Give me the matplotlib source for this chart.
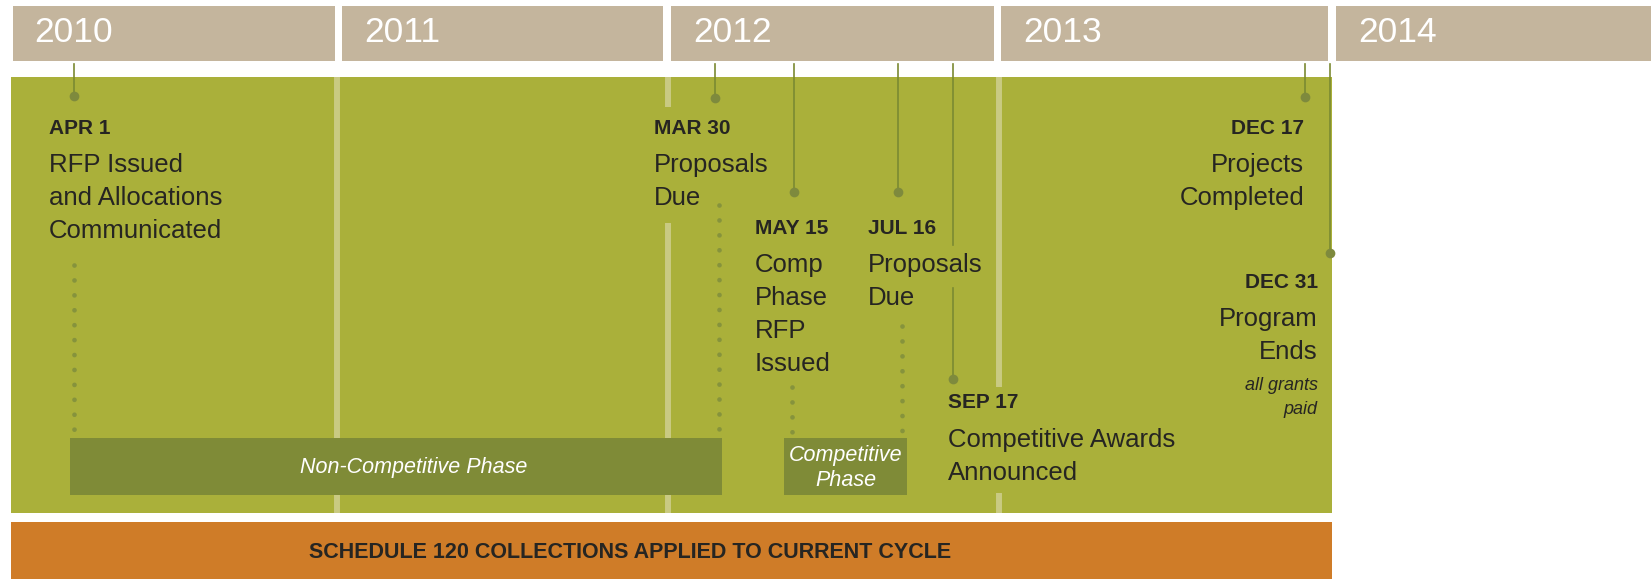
import matplotlib.pyplot as plt
from matplotlib.patches import Rectangle

plt.rcParams['font.family'] = ['Liberation Sans', 'DejaVu Sans']

# ---- data -------------------------------------------------------------
years = [2010, 2011, 2012, 2013, 2014]

event_dates = ["APR 1", "MAR 30", "MAY 15", "JUL 16", "SEP 17", "DEC 17", "DEC 31"]
event_text = [
    ["RFP Issued", "and Allocations", "Communicated"],
    ["Proposals", "Due"],
    ["Comp", "Phase", "RFP", "Issued"],
    ["Proposals", "Due"],
    ["Competitive Awards", "Announced"],
    ["Projects", "Completed"],
    ["Program", "Ends"],
]
# where each marker sits on the year axis (as drawn, decimal years)
event_x = [2010.20, 2012.137, 2012.376, 2012.69, 2012.857, 2013.92, 2013.995]
event_note = {6: ["all grants", "paid"]}

phases = ["Non-Competitive Phase", "Competitive\nPhase"]
phase_start = [2010.19, 2012.346]
phase_end = [2012.159, 2012.717]

program_start = 2010.01
program_end = 2014.0
banner = "SCHEDULE 120 COLLECTIONS APPLIED TO CURRENT CYCLE"

# ---- layout (pixel rows, px offsets) ---------------------------------
W, H = 1651, 579
PX_PER_YEAR = 331.0
X0 = 2010 - 7.5 / PX_PER_YEAR

def dx(px):
    return px / PX_PER_YEAR

dot_y = [96, 98, 192, 192, 379, 97, 253]
label_y = [128, 128, 228, 228, 403, 128, 282]
text_off = [-24.5, -61, -39, -30, -5, -1, -12]
text_ha = ["left"] * 5 + ["right", "right"]
stem_segments = {4: [(64, 245), (288, 379)]}
dotted = {0: (0, 265, 436), 1: (4, 205, 436), 2: (-2, 387, 436), 3: (4, 326, 436)}
sep_segments = {2011: [(77, 513)], 2012: [(77, 107), (223, 513)],
                2013: [(77, 387), (493, 513)]}
box_edges = [(12.6, 335), (342, 663), (671, 994), (1001, 1328), (1336, 1660)]
phase_text_x = [414, None]

TAN = "#c4b59d"
GREEN = "#aab03a"
LIGHT = "#c9ca82"
DARK_GREEN = "#7f8b37"
STEM = "#7b8a32"
ORANGE = "#cf7c28"
INK = "#262522"

def px2yr(px):
    return X0 + px / PX_PER_YEAR

fig = plt.figure(figsize=(W / 100, H / 100), dpi=100)
ax = fig.add_axes([0, 0, 1, 1])
ax.set_xlim(X0, X0 + W / PX_PER_YEAR)
ax.set_ylim(H, 0)
ax.axis("off")

# year header boxes
for yr, (l, r) in zip(years, box_edges):
    ax.add_patch(Rectangle((px2yr(l), 6), dx(r - l), 55, color=TAN, lw=0))
    ax.text(px2yr(l + 22), 33, str(yr), color="white", fontsize=25.5,
            va="center", ha="left")

# green program area and orange banner
ax.add_patch(Rectangle((program_start, 77), program_end - program_start, 436,
                       color=GREEN, lw=0))
ax.add_patch(Rectangle((program_start, 522), program_end - program_start, 60,
                       color=ORANGE, lw=0))
ax.text(2011.88, 553, banner, color=INK, fontsize=15.5, fontweight="bold",
        ha="center", va="center")

# light year separators
for yr, segs in sep_segments.items():
    for y0, y1 in segs:
        ax.plot([yr - dx(2), yr - dx(2)], [y0, y1], color=LIGHT, lw=4.3,
                solid_capstyle="butt", zorder=2)

# phase bars
for i, (name, s, e) in enumerate(zip(phases, phase_start, phase_end)):
    ax.add_patch(Rectangle((s, 438), e - s, 57, color=DARK_GREEN, lw=0,
                           zorder=3))
    tx = px2yr(phase_text_x[i]) if phase_text_x[i] else (s + e) / 2
    ax.text(tx, 468, name, color="white", fontsize=15.5, style="italic",
            ha="center", va="center", linespacing=1.2, zorder=4)

# events
for i, x in enumerate(event_x):
    segs = stem_segments.get(i, [(64, dot_y[i])])
    for y0, y1 in segs:
        ax.plot([x, x], [y0, y1], color=STEM, lw=1.2, zorder=4)
    ax.plot(x, dot_y[i], "o", ms=7, color="#7e8a3d", mec="none", zorder=5)
    if i in dotted:
        off, y0, y1 = dotted[i]
        ax.plot([x + dx(off)] * 2, [y0, y1], color="#86933c", lw=3.4,
                ls=(0, (0.01, 3.15)), dash_capstyle="round", zorder=2.5)
    tx = x + dx(text_off[i])
    ax.text(tx, label_y[i], event_dates[i], color=INK, fontsize=15,
            fontweight="bold", ha=text_ha[i], va="center", zorder=6)
    for k, line in enumerate(event_text[i]):
        ax.text(tx, label_y[i] + 37 + 33 * k, line, color=INK, fontsize=18.5,
                ha=text_ha[i], va="center", zorder=6)
    if i in event_note:
        base = label_y[i] + 37 + 33 * len(event_text[i])
        for k, line in enumerate(event_note[i]):
            ax.text(tx, base + 1 + 23 * k, line, color=INK, fontsize=13,
                    style="italic", ha=text_ha[i], va="center", zorder=6)

fig.savefig("out.png", dpi=100)
